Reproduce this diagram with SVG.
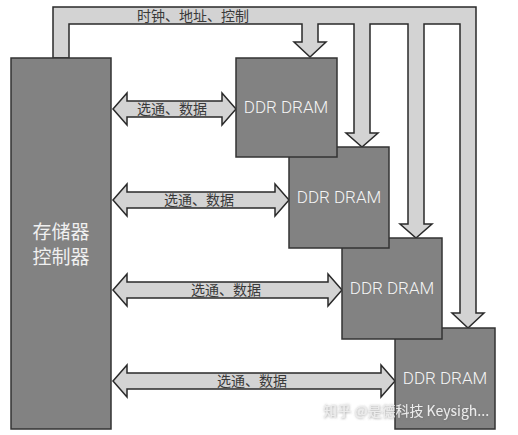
<svg xmlns="http://www.w3.org/2000/svg" width="518" height="435" viewBox="0 0 518 435">
<defs>
<style>
.bus{fill:#d3d3d3;stroke:#2a2a2a;stroke-width:1.5;stroke-linejoin:miter}
.box{fill:#828282;stroke:#333;stroke-width:1.5}
.lbl{font-family:"Noto Sans CJK SC","Liberation Sans",sans-serif;font-size:14px;fill:#3a3a3a;text-anchor:middle}
.dt{font-family:Roboto,"Liberation Sans",sans-serif;font-weight:300;font-size:17px;fill:#f4f4f4;text-anchor:middle}
.ct{font-family:"Noto Sans CJK SC",sans-serif;font-size:19px;fill:#f0f0f0;text-anchor:middle}
.wm{font-family:"Noto Sans CJK SC","Liberation Sans",sans-serif;font-size:14px;fill:#ececec}
</style>
<filter id="sh" x="-10%" y="-30%" width="120%" height="160%">
<feDropShadow dx="0.6" dy="0.6" stdDeviation="0.8" flood-color="#666" flood-opacity="0.7"/>
</filter>
</defs>
<g id="connectors">
<path class="bus" d="M53,58 L53,7 L476,7 L476,313 L484,313 L468,328 L452,313 L460,313 L460,24 L424,24 L424,224 L432,224 L416,238 L400,224 L408,224 L408,24 L370,24 L370,133 L378,133 L362,147 L346,133 L354,133 L354,24 L318,24 L318,42 L326,42 L310,57 L294,42 L302,42 L302,24 L69,24 L69,58 Z"/>
<polygon class="bus" points="113,109 127,93 127,101 222,101 222,93 236,109 222,125 222,117 127,117 127,125"/>
<polygon class="bus" points="113,200 127,184 127,192 275,192 275,184 289,200 275,216 275,208 127,208 127,216"/>
<polygon class="bus" points="113,290 127,274 127,282 328,282 328,274 342,290 328,306 328,298 127,298 127,306"/>
<polygon class="bus" points="113,381 127,365 127,373 381,373 381,365 395,381 381,397 381,389 127,389 127,397"/>
<text class="lbl" x="193" y="21">时钟、地址、控制</text>
<text class="lbl" x="172" y="114">选通、数据</text>
<text class="lbl" x="199" y="205">选通、数据</text>
<text class="lbl" x="226" y="295">选通、数据</text>
<text class="lbl" x="252" y="386">选通、数据</text>
</g>
<g id="controller">
<rect class="box" x="11" y="58" width="100" height="371"/>
<text class="ct" x="61" y="239">存储器</text>
<text class="ct" x="61" y="264">控制器</text>
</g>
<g id="dram4">
<rect class="box" x="395" y="328" width="100" height="101"/>
<text class="dt" x="445" y="384">DDR DRAM</text>
</g>
<g id="dram3">
<rect class="box" x="342" y="238" width="100" height="101"/>
<text class="dt" x="392" y="294">DDR DRAM</text>
</g>
<g id="dram2">
<rect class="box" x="289" y="147" width="100" height="101"/>
<text class="dt" x="339" y="203">DDR DRAM</text>
</g>
<g id="dram1">
<rect class="box" x="236" y="58" width="101" height="99"/>
<text class="dt" x="286" y="113">DDR DRAM</text>
</g>
<text class="wm" x="323" y="416" filter="url(#sh)">知乎 @是德科技 Keysigh...</text>
</svg>
